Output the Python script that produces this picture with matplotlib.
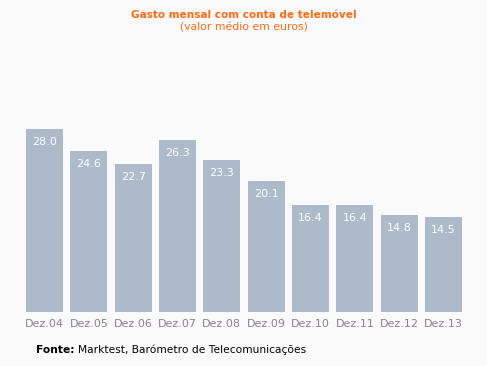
import matplotlib
matplotlib.use("Agg")
import matplotlib.pyplot as plt

# Data
categories = ["Dez.04", "Dez.05", "Dez.06", "Dez.07", "Dez.08",
              "Dez.09", "Dez.10", "Dez.11", "Dez.12", "Dez.13"]
values = [28.0, 24.6, 22.7, 26.3, 23.3, 20.1, 16.4, 16.4, 14.8, 14.5]

BG = "#fafafa"
BAR = "#adbac9"
TICK = "#8a7f8a"
ORANGE = "#ff6a13"

fig = plt.figure(figsize=(4.87, 3.66), dpi=100, facecolor=BG)
ax = fig.add_axes([0.0458, 0.1475, 0.9105, 0.536])
ax.set_facecolor(BG)

x = range(len(categories))
ax.bar(x, values, width=0.83, color=BAR)
for xi, v in zip(x, values):
    ax.annotate(f"{v:.1f}", (xi, v), xytext=(0, -9.5), textcoords="offset points",
                ha="center", va="center", color="white", fontsize=8)

ax.set_xlim(-0.5, len(categories) - 0.5)
ax.set_ylim(0, 30)
ax.set_xticks(list(x))
ax.set_xticklabels(categories, color=TICK, fontsize=8)
ax.tick_params(axis="x", length=0, pad=5)
ax.set_yticks([])
for s in ax.spines.values():
    s.set_visible(False)

fig.text(0.5, 1 - 15 / 366, "Gasto mensal com conta de telemóvel", ha="center", va="center",
         color=ORANGE, fontsize=7.6, fontweight="bold")
fig.text(0.5, 1 - 28 / 366, "(valor médio em euros)", ha="center", va="center",
         color=ORANGE, fontsize=7.8)

# source line: bold label followed by normal text
fy = 1 - 350 / 366
lab = fig.text(36 / 487, fy, "Fonte:", ha="left", va="center",
               color="black", fontsize=7.7, fontweight="bold")
fig.canvas.draw()
bb = lab.get_window_extent(renderer=fig.canvas.get_renderer())
fig.text((bb.x1 + 4) / 487, fy, "Marktest, Barómetro de Telecomunicações",
         ha="left", va="center", color="black", fontsize=7.7)

fig.savefig("out.png", dpi=100, facecolor=BG)
